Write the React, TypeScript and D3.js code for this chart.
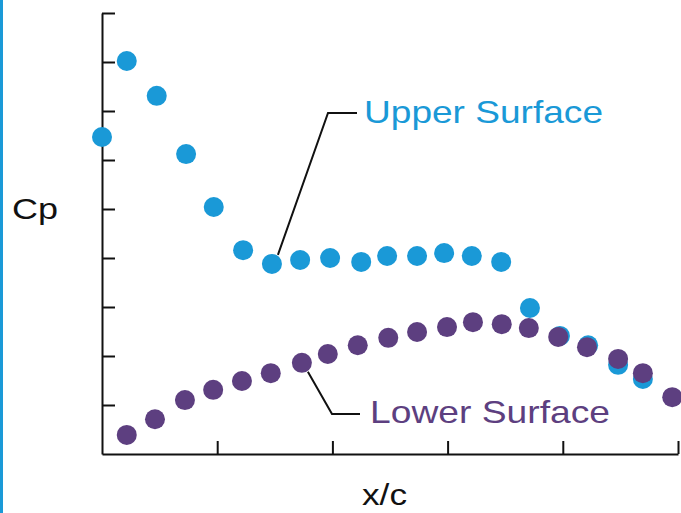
import React, { useEffect, useRef } from "react";
import * as d3 from "d3";

// Upper surface pressure points (x/c, Cp in axis units, inverted scale)
const upperX = [0, 0.043, 0.095, 0.146, 0.194, 0.245, 0.295, 0.344, 0.396, 0.45, 0.495, 0.547, 0.594, 0.642, 0.693, 0.743, 0.795, 0.844, 0.896, 0.939];
const upperCp = [6.47, 8.02, 7.31, 6.12, 5.04, 4.16, 3.88, 3.96, 4.0, 3.92, 4.04, 4.04, 4.1, 4.04, 3.92, 2.98, 2.41, 2.22, 1.82, 1.53];

// Lower surface pressure points
const lowerX = [0.043, 0.092, 0.144, 0.193, 0.243, 0.293, 0.347, 0.392, 0.444, 0.497, 0.547, 0.599, 0.644, 0.694, 0.741, 0.792, 0.842, 0.896, 0.939, 0.99];
const lowerCp = [0.39, 0.71, 1.1, 1.31, 1.49, 1.65, 1.86, 2.04, 2.22, 2.37, 2.49, 2.59, 2.69, 2.65, 2.57, 2.39, 2.18, 1.94, 1.65, 1.16];

const xTicks = [0.2, 0.4, 0.6, 0.8, 1.0];
const yTicks = [1, 2, 3, 4, 5, 6, 7, 8, 9];

const blue = "#1a99d7";
const purple = "#5d3f80";
const font = "'Liberation Sans', Arial, Helvetica, sans-serif";

function App() {
  const ref = useRef<SVGSVGElement>(null);

  useEffect(() => {
    const width = 681;
    const height = 513;
    const svg = d3.select(ref.current);
    svg.selectAll("*").remove();

    const x = d3.scaleLinear().domain([0, 1]).range([102, 678]);
    const y = d3.scaleLinear().domain([0, 9]).range([454, 13]);

    // blue frame line at the left edge
    svg.append("rect").attr("x", 0).attr("y", 0).attr("width", 3).attr("height", height).attr("fill", blue);

    // axes, ticks point inward
    const xAxis = svg
      .append("g")
      .attr("transform", `translate(0,${y(0)})`)
      .call(d3.axisBottom(x).tickValues(xTicks).tickSizeInner(-13).tickSizeOuter(0).tickFormat(() => ""));
    const yAxis = svg
      .append("g")
      .attr("transform", `translate(${x(0)},0)`)
      .call(d3.axisLeft(y).tickValues(yTicks).tickSizeInner(-13).tickSizeOuter(0).tickFormat(() => ""));
    [xAxis, yAxis].forEach((g) => {
      g.selectAll("path, line").attr("stroke", "#111").attr("stroke-width", 2);
    });

    // series
    const upper = upperX.map((v, i) => ({ x: v, y: upperCp[i] }));
    const lower = lowerX.map((v, i) => ({ x: v, y: lowerCp[i] }));

    svg.append("g").selectAll("circle").data(upper).enter()
      .append("circle")
      .attr("cx", (d) => x(d.x))
      .attr("cy", (d) => y(d.y))
      .attr("r", 10)
      .attr("fill", blue);

    svg.append("g").selectAll("circle").data(lower).enter()
      .append("circle")
      .attr("cx", (d) => x(d.x))
      .attr("cy", (d) => y(d.y))
      .attr("r", 10)
      .attr("fill", purple);

    // leader lines to the labels
    const up = upper[6];
    svg.append("path")
      .attr("d", d3.line()([[x(up.x) + 6, y(up.y) - 9], [328, 113], [357, 113]]))
      .attr("fill", "none").attr("stroke", "#111").attr("stroke-width", 2);
    const lo = lower[6];
    svg.append("path")
      .attr("d", d3.line()([[x(lo.x) + 6, y(lo.y) + 9], [332, 414], [360, 414]]))
      .attr("fill", "none").attr("stroke", "#111").attr("stroke-width", 2);

    const label = (tx: number, ty: number, text: string, color: string, size: number, len: number) =>
      svg.append("text")
        .attr("x", tx).attr("y", ty)
        .attr("fill", color)
        .attr("font-family", font)
        .attr("font-size", size)
        .attr("textLength", len)
        .attr("lengthAdjust", "spacingAndGlyphs")
        .text(text);

    label(364, 123, "Upper Surface", blue, 32, 239);
    label(370, 423, "Lower Surface", purple, 32, 240);
    label(12, 219, "Cp", "#111", 30, 46);
    label(362, 505, "x/c", "#111", 30, 45);

    svg.attr("width", width).attr("height", height);
  }, []);

  return (
    <svg
      ref={ref}
      width={681}
      height={513}
      style={{ position: "absolute", left: 0, top: 0, background: "#fff" }}
    />
  );
}

export default App;
